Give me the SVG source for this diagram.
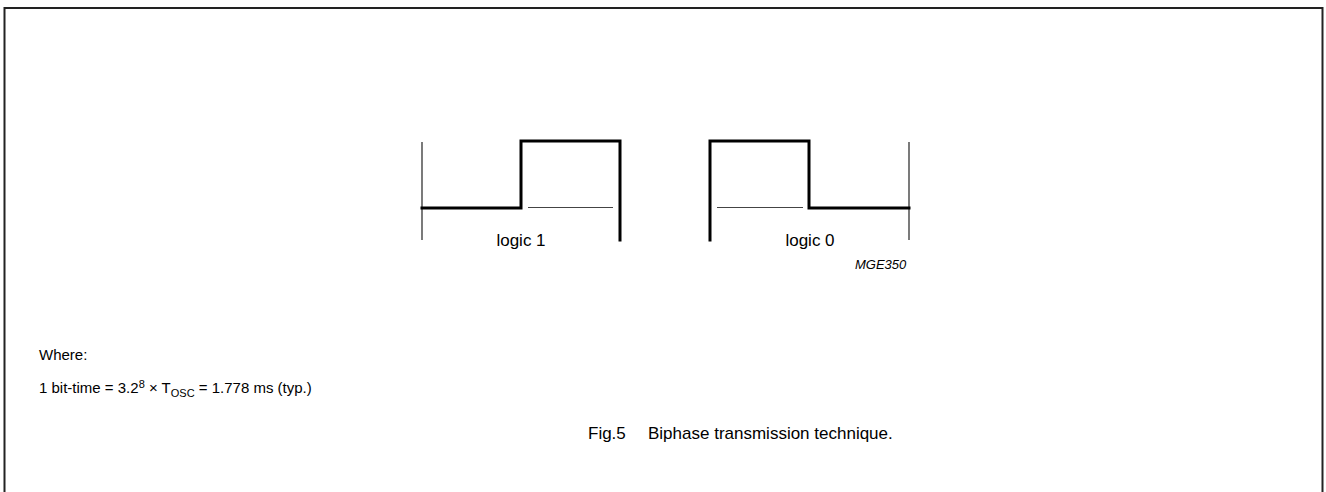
<svg xmlns="http://www.w3.org/2000/svg" width="1326" height="492" viewBox="0 0 1326 492">
<style>
.frame{fill:none;stroke:#222;stroke-width:2}
.thick{fill:none;stroke:#000;stroke-width:3;stroke-linejoin:miter;stroke-linecap:square}
.tick{fill:none;stroke:#222;stroke-width:1.2}
.ref{fill:none;stroke:#444;stroke-width:1}
text{font-family:"Liberation Sans",Arial,sans-serif;fill:#000}
.lbl{font-size:17px;text-anchor:middle}
.note{font-size:15px}
.cap{font-size:17px}
.code{font-size:13px;font-style:italic}
</style>
<rect width="1326" height="492" fill="#fff"/>
<path class="frame" d="M4.5,500 V8 H1322.5 V500"/>
<g id="logic1">
<path class="tick" d="M422,142 V240"/>
<path class="thick" d="M422,208 H521 V141 H620 V240"/>
<path class="ref" d="M528,207.5 H613"/>
<text class="lbl" x="521" y="246">logic 1</text>
</g>
<g id="logic0">
<path class="tick" d="M909,142 V240"/>
<path class="thick" d="M710,240 V141 H809 V208 H909"/>
<path class="ref" d="M717,207.5 H803"/>
<text class="lbl" x="810" y="246">logic 0</text>
</g>
<g id="connectors"></g>
<text class="code" x="855" y="269">MGE350</text>
<text class="note" x="39" y="360">Where:</text>
<text class="note" x="39" y="393">1 bit-time = 3.2<tspan dy="-5" font-size="11">8</tspan><tspan dy="5"> × T</tspan><tspan dy="4" font-size="11">OSC</tspan><tspan dy="-4"> = 1.778 ms (typ.)</tspan></text>
<text class="cap" x="588" y="439">Fig.5</text>
<text class="cap" x="648" y="439">Biphase transmission technique.</text>
</svg>
